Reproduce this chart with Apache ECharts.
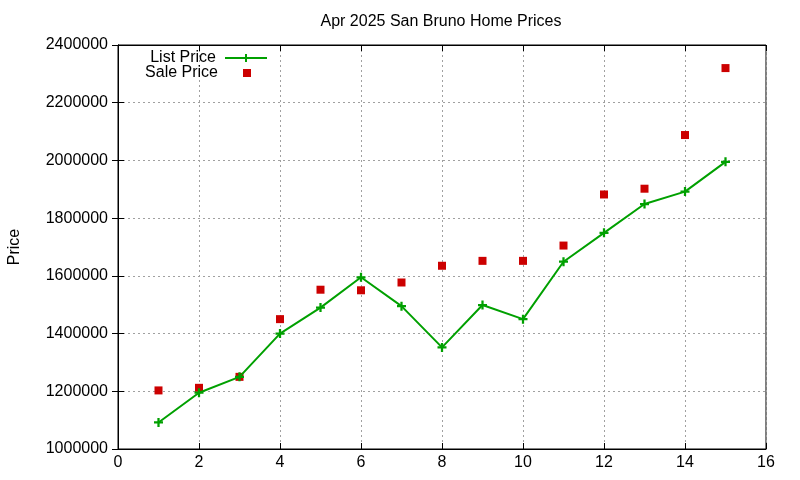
<!DOCTYPE html>
<html>
<head>
<meta charset="utf-8">
<script src="https://cdn.jsdelivr.net/npm/echarts@6/dist/echarts.min.js"></script>
<style>
  html, body { margin: 0; padding: 0; background: #fff; }
  #chart { width: 800px; height: 480px; }
</style>
</head>
<body>
<div id="chart"></div>
<script>
// values
var months = [1, 2, 3, 4, 5, 6, 7, 8, 9, 10, 11, 12, 13, 14, 15];
var listPrice = [1092000, 1195000, 1250000, 1400000, 1490000, 1595000, 1495000, 1352000,
                 1499000, 1450000, 1649000, 1749000, 1849000, 1892000, 1995000];
var salePrice = [1203000, 1212000, 1250000, 1450000, 1552000, 1550000, 1577000, 1635000,
                 1652000, 1652000, 1705000, 1882000, 1902000, 2088000, 2320000];

var font = 'Liberation Sans, Arial, sans-serif';
var plus = 'path://M3,0H5V3H8V5H5V8H3V5H0V3H3Z';

var chart = echarts.init(document.getElementById('chart'));

function pairs(vals) {
    return months.map(function (m, i) { return [m, vals[i]]; });
}

var dashed = { show: true, lineStyle: { color: '#a0a0a0', type: [2, 3], width: 1 } };
var tick = { show: true, inside: true, length: 6, lineStyle: { color: '#000' } };

var option = {
    animation: false,
    title: {
        text: 'Apr 2025 San Bruno Home Prices',
        left: 436, top: 9, textAlign: 'center',
        textStyle: { fontFamily: font, fontSize: 16, fontWeight: 'normal', color: '#000' }
    },
    legend: [{
        data: ['List Price'], orient: 'vertical', align: 'right', padding: 0,
        right: 532, top: 50, itemWidth: 42, itemHeight: 10,
        textStyle: { fontFamily: font, fontSize: 16, color: '#000', padding: [0, 4, 0, 0] }
    }, {
        data: [{ name: 'Sale Price', icon: 'rect' }], orient: 'vertical', align: 'right', padding: 0,
        right: 549, top: 65, itemWidth: 8, itemHeight: 8,
        textStyle: { fontFamily: font, fontSize: 16, color: '#000', padding: [0, 20, 0, 0] }
    }],
    grid: {
        left: 118, right: 34, top: 45, bottom: 31, outerBoundsMode: 'none', containLabel: false,
        show: true, borderColor: '#000', borderWidth: 1, backgroundColor: 'transparent'
    },
    xAxis: [{
        type: 'value', min: 0, max: 16, interval: 2,
        axisLine: { show: true, lineStyle: { color: '#000' } },
        axisTick: tick, splitLine: dashed,
        axisLabel: { fontFamily: font, fontSize: 16, color: '#000', margin: 6 }
    }, {
        type: 'value', position: 'top', min: 0, max: 16, interval: 2,
        axisLine: { show: true, lineStyle: { color: '#000' } },
        axisTick: tick, splitLine: { show: false }, axisLabel: { show: false }
    }],
    yAxis: [{
        type: 'value', min: 1000000, max: 2400000, interval: 200000,
        name: 'Price', nameLocation: 'middle', nameGap: 95, nameRotate: 90,
        nameTextStyle: { fontFamily: font, fontSize: 16, color: '#000' },
        axisLine: { show: true, lineStyle: { color: '#000' } },
        axisTick: tick, splitLine: dashed,
        axisLabel: {
            fontFamily: font, fontSize: 16, color: '#000', margin: 10,
            formatter: function (v) { return String(v); }
        }
    }, {
        type: 'value', position: 'right', min: 1000000, max: 2400000, interval: 200000,
        axisLine: { show: true, lineStyle: { color: '#000' } },
        axisTick: tick, splitLine: { show: false }, axisLabel: { show: false }
    }],
    series: [{
        name: 'List Price', type: 'line', data: pairs(listPrice),
        symbol: plus, symbolSize: 9, showAllSymbol: true,
        lineStyle: { color: '#00a000', width: 2 },
        itemStyle: { color: '#00a000' }
    }, {
        name: 'Sale Price', type: 'scatter', data: pairs(salePrice),
        symbol: 'rect', symbolSize: 8,
        itemStyle: { color: '#cc0000', opacity: 1 }
    }]
};

chart.setOption(option);
</script>
</body>
</html>
